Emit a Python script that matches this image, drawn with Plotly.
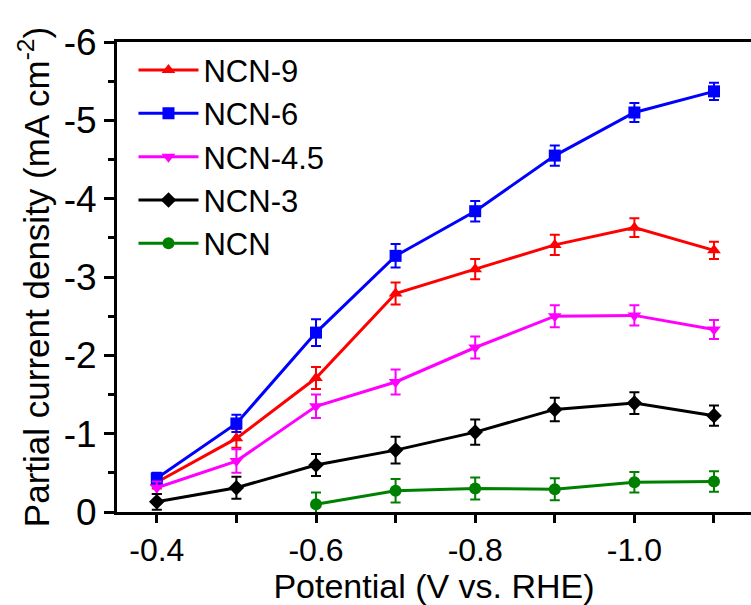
import plotly.graph_objects as go

potential = [-0.4, -0.5, -0.6, -0.7, -0.8, -0.9, -1.0, -1.1]
potential_ncn = [-0.6, -0.7, -0.8, -0.9, -1.0, -1.1]

ncn9 = [-0.38, -0.94, -1.71, -2.79, -3.10, -3.41, -3.63, -3.34]
ncn9_err = [0.08, 0.12, 0.14, 0.14, 0.13, 0.13, 0.12, 0.11]
ncn6 = [-0.43, -1.13, -2.29, -3.27, -3.84, -4.55, -5.10, -5.37]
ncn6_err = [0.07, 0.11, 0.17, 0.15, 0.13, 0.13, 0.12, 0.11]
ncn45 = [-0.31, -0.65, -1.35, -1.66, -2.10, -2.50, -2.51, -2.33]
ncn45_err = [0.08, 0.15, 0.15, 0.16, 0.14, 0.14, 0.13, 0.12]
ncn3 = [-0.13, -0.31, -0.60, -0.79, -1.02, -1.31, -1.39, -1.23]
ncn3_err = [0.10, 0.14, 0.14, 0.17, 0.16, 0.15, 0.14, 0.13]
ncn = [-0.10, -0.27, -0.30, -0.29, -0.38, -0.39]
ncn_err = [0.15, 0.15, 0.14, 0.14, 0.13, 0.13]

x_ticks = [-0.4, -0.6, -0.8, -1.0]
x_ticktext = ["-0.4", "-0.6", "-0.8", "-1.0"]
x_minor = [-0.5, -0.7, -0.9, -1.1]
y_ticks = [0, -1, -2, -3, -4, -5, -6]
y_ticktext = ["0", "-1", "-2", "-3", "-4", "-5", "-6"]
y_minor = [-0.5, -1.5, -2.5, -3.5, -4.5, -5.5]

FONT = "Liberation Sans, Arial, sans-serif"

series = [
    ("NCN-9", potential, ncn9, ncn9_err, "#ff0000", "triangle-up"),
    ("NCN-6", potential, ncn6, ncn6_err, "#0000ff", "square"),
    ("NCN-4.5", potential, ncn45, ncn45_err, "#ff00ff", "triangle-down"),
    ("NCN-3", potential, ncn3, ncn3_err, "#000000", "diamond"),
    ("NCN", potential_ncn, ncn, ncn_err, "#008000", "circle"),
]

fig = go.Figure()
for name, xs, ys, errs, color, sym in series:
    fig.add_trace(go.Scatter(
        x=xs, y=ys, name=name, mode="lines+markers",
        line=dict(color=color, width=3),
        marker=dict(color=color, symbol=sym, size=12),
        error_y=dict(type="data", array=errs, visible=True, color=color, thickness=2, width=5),
    ))

fig.update_layout(
    width=751, height=605,
    margin=dict(l=117, r=0, t=42, b=93),
    paper_bgcolor="white", plot_bgcolor="white",
    font=dict(family=FONT, color="black", size=34),
    showlegend=True,
    legend=dict(x=0.026, y=0.997, xanchor="left", yanchor="top",
                bgcolor="rgba(0,0,0,0)", font=dict(size=31, family=FONT),
                tracegroupgap=0, itemwidth=60),
)
fig.update_xaxes(
    range=[-0.35, -1.1465], showgrid=False, zeroline=False, automargin=False,
    showline=True, linecolor="black", linewidth=3, mirror=True,
    ticks="outside", ticklen=8, tickwidth=3, tickcolor="black",
    tickvals=x_ticks, ticktext=x_ticktext,
    tickfont=dict(size=32, family=FONT),
    minor=dict(tickvals=x_minor, ticks="outside", ticklen=8, tickwidth=3, tickcolor="black"),
    title=dict(text="Potential (V vs. RHE)", font=dict(size=34, family=FONT), standoff=4),
)
fig.update_yaxes(
    range=[0, -6], showgrid=False, zeroline=False, automargin=False,
    showline=True, linecolor="black", linewidth=3, mirror=False,
    ticks="outside", ticklen=10, tickwidth=3, tickcolor="black",
    tickvals=y_ticks, ticktext=y_ticktext,
    tickfont=dict(size=37, family=FONT),
    minor=dict(tickvals=y_minor, ticks="outside", ticklen=6, tickwidth=3, tickcolor="black"),
    title=dict(text="Partial current density (mA cm<sup>-2</sup>)", font=dict(size=35, family=FONT), standoff=4),
)

fig.write_html("out.html")
